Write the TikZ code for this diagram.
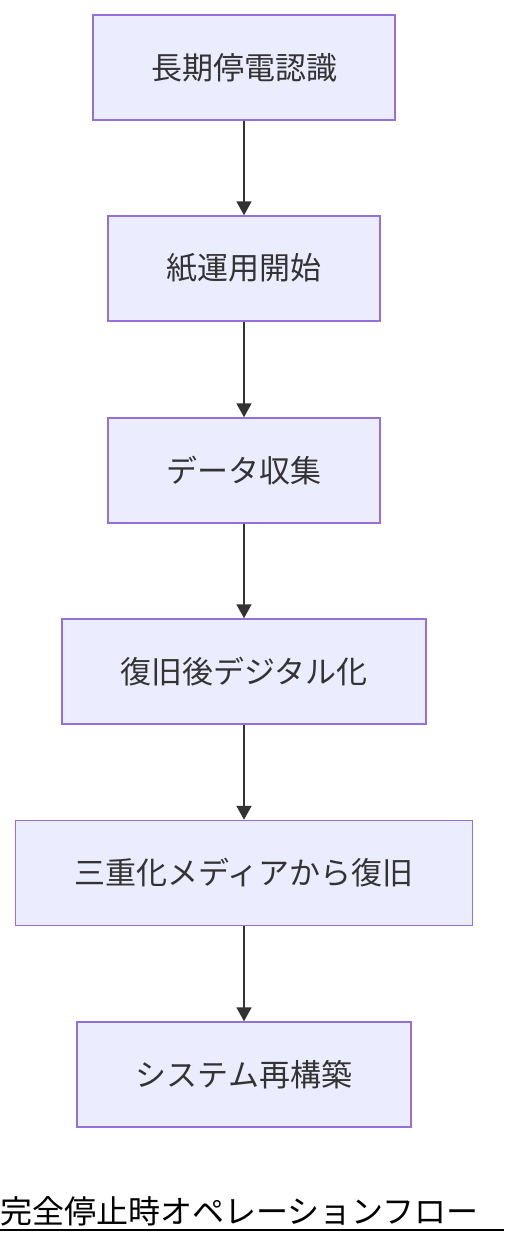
\documentclass[tikz,border=0pt]{standalone}
\usepackage{fontspec}
\setmainfont{Noto Sans CJK JP}
\usetikzlibrary{arrows.meta}
\definecolor{nodefill}{HTML}{ECECFF}
\definecolor{nodedraw}{HTML}{9370DB}
\definecolor{edgecol}{HTML}{333333}
\begin{document}
\begin{tikzpicture}[x=1pt,y=-1pt,
  box/.style={draw=nodedraw,fill=nodefill,line width=1.5pt,inner sep=0pt,
    font=\fontsize{31}{34}\selectfont,text=edgecol},
  flow/.style={draw=edgecol,line width=1.8pt,-{Triangle[length=14pt,width=15pt]}}]
\useasboundingbox (0,0) rectangle (504,1244);
\node[box,minimum width=302pt,minimum height=105pt] (n1) at (244,67.5) {長期停電認識};
\node[box,minimum width=272pt,minimum height=105pt] (n2) at (244,268.5) {紙運用開始};
\node[box,minimum width=272pt,minimum height=105pt] (n3) at (244,470.5) {データ収集};
\node[box,minimum width=364pt,minimum height=105pt] (n4) at (244,671.5) {復旧後デジタル化};
\node[box,minimum width=457pt,minimum height=105pt] (n5) at (244,873) {三重化メディアから復旧};
\node[box,minimum width=334pt,minimum height=105pt] (n6) at (244,1074.5) {システム再構築};
\draw[flow] (n1) -- (n2);
\draw[flow] (n2) -- (n3);
\draw[flow] (n3) -- (n4);
\draw[flow] (n4) -- (n5);
\draw[flow] (n5) -- (n6);
\node[anchor=west,inner sep=0pt,font=\fontsize{32}{35}\selectfont] (t) at (0,1211) {完全停止時オペレーションフロー};
\coordinate (ul) at (0,1230);
\coordinate (ur) at (504,1230);
\draw[line width=1.5pt] (ul) -- (ur);
\end{tikzpicture}
\end{document}
